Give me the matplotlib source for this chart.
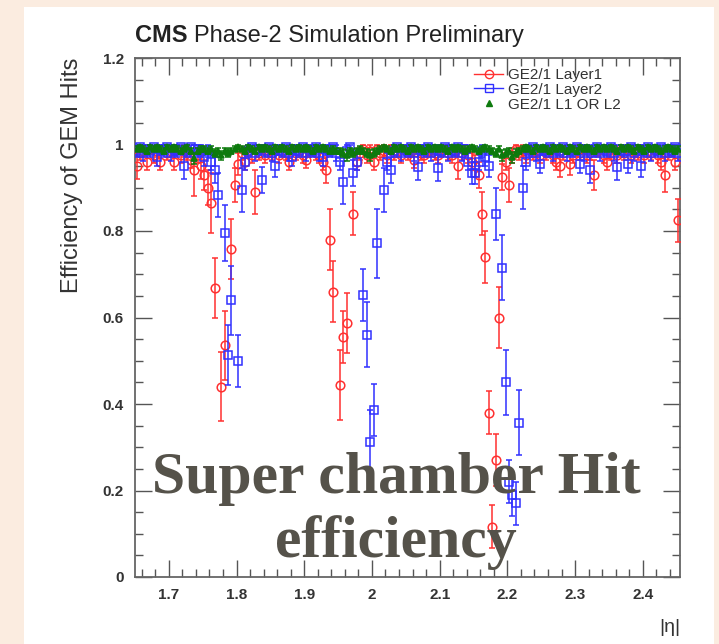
import numpy as np
import matplotlib
matplotlib.use("Agg")
import matplotlib.pyplot as plt
from matplotlib.ticker import MultipleLocator, FixedLocator, FixedFormatter
from matplotlib.lines import Line2D
from matplotlib.patches import Rectangle

nan = np.nan

# ---------------- data ----------------
eta_min, eta_max, bin_width = 1.65, 2.455, 0.005
n_bins = 161

layer1_eff = [
    0.95, 0.98, 0.985, 0.96, 0.99, 0.975, 0.985, 0.96, 0.99, 0.98,
    0.985, 0.96, 0.99, 0.975, 0.985, 0.98, 0.965, 0.94, 0.975, 0.95,
    0.93, 0.90, 0.865, 0.668, nan, 0.44, 0.536, nan, 0.758, 0.906,
    0.955, 0.98, 0.96, 0.985, 0.975, 0.89, 0.98, 0.99, 0.975, 0.985,
    0.98, 0.99, 0.975, 0.985, 0.98, 0.96, 0.99, 0.98, 0.985, 0.975,
    0.965, 0.985, 0.99, 0.98, 0.975, 0.96, 0.94, 0.78, 0.66, nan,
    0.444, 0.555, 0.587, nan, 0.84, 0.96, 0.98, 0.99, 0.975, 0.985,
    0.96, 0.99, 0.98, 0.985, 0.975, 0.99, 0.98, 0.985, 0.975, 0.99,
    0.98, 0.985, 0.965, 0.99, 0.98, 0.975, 0.985, 0.99, 0.98, 0.975,
    0.985, 0.99, 0.98, 0.975, 0.985, 0.95, 0.98, 0.99, 0.975, 0.96,
    0.95, 0.93, 0.84, 0.74, 0.38, 0.116, 0.27, 0.60, 0.925, 0.96,
    0.906, 0.975, 0.99, 0.98, 0.985, 0.975, 0.99, 0.98, 0.985, 0.975,
    0.99, 0.98, 0.985, 0.975, 0.96, 0.95, 0.98, 0.99, 0.955, 0.975,
    0.985, 0.98, 0.99, 0.975, 0.98, 0.93, 0.985, 0.99, 0.975, 0.96,
    0.98, 0.99, 0.975, 0.985, 0.98, 0.99, 0.975, 0.985, 0.98, 0.99,
    0.975, 0.985, 0.98, 0.99, 0.975, 0.96, 0.93, 0.98, 0.985, 0.96, 0.825,
]
layer1_err = [
    0.03, 0.015, 0.015, 0.02, 0.012, 0.018, 0.015, 0.02, 0.012, 0.015,
    0.015, 0.02, 0.012, 0.018, 0.015, 0.015, 0.02, 0.06, 0.018, 0.03,
    0.035, 0.04, 0.07, 0.07, nan, 0.08, 0.08, nan, 0.07, 0.04,
    0.025, 0.015, 0.02, 0.012, 0.018, 0.05, 0.015, 0.012, 0.018, 0.015,
    0.015, 0.012, 0.018, 0.015, 0.015, 0.02, 0.012, 0.015, 0.015, 0.018,
    0.02, 0.015, 0.012, 0.015, 0.018, 0.02, 0.03, 0.07, 0.07, nan,
    0.08, 0.06, 0.07, nan, 0.05, 0.02, 0.015, 0.012, 0.018, 0.015,
    0.02, 0.012, 0.015, 0.015, 0.018, 0.012, 0.015, 0.015, 0.018, 0.012,
    0.015, 0.015, 0.02, 0.012, 0.015, 0.018, 0.015, 0.012, 0.015, 0.018,
    0.015, 0.012, 0.015, 0.018, 0.015, 0.03, 0.015, 0.012, 0.018, 0.02,
    0.025, 0.03, 0.05, 0.06, 0.05, 0.05, 0.06, 0.07, 0.03, 0.02,
    0.04, 0.018, 0.012, 0.015, 0.015, 0.018, 0.012, 0.015, 0.015, 0.018,
    0.012, 0.015, 0.015, 0.018, 0.02, 0.025, 0.015, 0.012, 0.025, 0.018,
    0.015, 0.015, 0.012, 0.018, 0.015, 0.035, 0.015, 0.012, 0.018, 0.02,
    0.015, 0.012, 0.018, 0.015, 0.015, 0.012, 0.018, 0.015, 0.015, 0.012,
    0.018, 0.015, 0.015, 0.012, 0.018, 0.02, 0.04, 0.015, 0.015, 0.02, 0.05,
]
layer2_eff = [
    0.985, 0.995, 0.98, 0.99, 0.985, 0.995, 0.97, 0.99, 0.985, 0.995,
    0.98, 0.99, 0.985, 0.995, 0.95, 0.985, 0.995, 0.98, 0.99, 0.985,
    0.97, 0.985, 0.96, 0.94, 0.883, nan, 0.795, 0.513, 0.64, nan,
    0.50, 0.895, 0.96, 0.985, 0.995, 0.98, 0.99, 0.918, 0.985, 0.995,
    0.98, 0.95, 0.99, 0.985, 0.995, 0.98, 0.97, 0.99, 0.985, 0.995,
    0.98, 0.99, 0.985, 0.995, 0.98, 0.97, 0.99, 0.985, 0.995, 0.98,
    0.96, 0.913, 0.985, 0.995, 0.934, 0.96, nan, 0.652, 0.56, 0.312,
    0.386, 0.772, nan, 0.895, 0.96, 0.94, 0.985, 0.995, 0.98, 0.99,
    0.985, 0.995, 0.98, 0.948, 0.99, 0.985, 0.995, 0.98, 0.99, 0.946,
    0.985, 0.995, 0.98, 0.99, 0.985, 0.995, 0.98, 0.99, 0.96, 0.934,
    0.934, 0.96, 0.985, 0.97, 0.95, nan, 0.84, nan, 0.715, 0.45,
    0.22, 0.19, 0.17, 0.357, 0.90, 0.96, 0.985, 0.995, 0.98, 0.955,
    0.99, 0.985, 0.995, 0.98, 0.99, 0.985, 0.995, 0.98, 0.99, 0.985,
    0.995, 0.955, 0.98, 0.99, 0.94, 0.985, 0.995, 0.98, 0.99, 0.985,
    0.995, 0.98, 0.948, 0.99, 0.985, 0.955, 0.995, 0.98, 0.99, 0.95,
    0.985, 0.995, 0.98, 0.99, 0.985, 0.995, 0.98, 0.99, 0.985, 0.995, 0.98,
]
layer2_err = [
    0.015, 0.012, 0.018, 0.015, 0.015, 0.012, 0.02, 0.015, 0.015, 0.012,
    0.018, 0.015, 0.015, 0.012, 0.03, 0.015, 0.012, 0.018, 0.015, 0.015,
    0.02, 0.015, 0.02, 0.03, 0.05, nan, 0.065, 0.07, 0.08, nan,
    0.06, 0.05, 0.02, 0.015, 0.012, 0.018, 0.015, 0.03, 0.015, 0.012,
    0.018, 0.025, 0.015, 0.015, 0.012, 0.018, 0.02, 0.015, 0.015, 0.012,
    0.018, 0.015, 0.015, 0.012, 0.018, 0.02, 0.015, 0.015, 0.012, 0.018,
    0.02, 0.05, 0.015, 0.012, 0.03, 0.02, nan, 0.06, 0.075, 0.075,
    0.06, 0.08, nan, 0.05, 0.02, 0.03, 0.015, 0.012, 0.018, 0.015,
    0.015, 0.012, 0.018, 0.03, 0.015, 0.015, 0.012, 0.018, 0.015, 0.03,
    0.015, 0.012, 0.018, 0.015, 0.015, 0.012, 0.018, 0.015, 0.02, 0.025,
    0.025, 0.02, 0.015, 0.02, 0.025, nan, 0.06, nan, 0.075, 0.075,
    0.05, 0.05, 0.05, 0.075, 0.05, 0.02, 0.015, 0.012, 0.018, 0.02,
    0.015, 0.015, 0.012, 0.018, 0.015, 0.015, 0.012, 0.018, 0.015, 0.015,
    0.012, 0.02, 0.018, 0.015, 0.03, 0.015, 0.012, 0.018, 0.015, 0.015,
    0.012, 0.018, 0.03, 0.015, 0.015, 0.02, 0.012, 0.018, 0.015, 0.025,
    0.015, 0.012, 0.018, 0.015, 0.015, 0.012, 0.018, 0.015, 0.015, 0.012, 0.018,
]
or_eff = [
    0.99, 0.995, 0.99, 0.985, 0.995, 0.99, 0.995, 0.99, 0.985, 0.995,
    0.99, 0.995, 0.99, 0.985, 0.99, 0.995, 0.985, 0.968, 0.985, 0.99,
    0.99, 0.985, 0.99, 0.98, 0.985, 0.975, 0.985, 0.98, 0.985, 0.99,
    0.995, 0.99, 0.985, 0.995, 0.99, 0.985, 0.995, 0.99, 0.995, 0.99,
    0.985, 0.995, 0.99, 0.995, 0.99, 0.985, 0.995, 0.99, 0.995, 0.99,
    0.995, 0.99, 0.985, 0.995, 0.99, 0.995, 0.99, 0.985, 0.99, 0.985,
    0.985, 0.98, 0.975, 0.985, 0.98, 0.985, 0.99, 0.985, 0.98, 0.975,
    0.98, 0.985, 0.99, 0.995, 0.99, 0.985, 0.995, 0.99, 0.995, 0.99,
    0.985, 0.995, 0.99, 0.995, 0.99, 0.985, 0.995, 0.99, 0.995, 0.99,
    0.995, 0.99, 0.985, 0.995, 0.99, 0.995, 0.99, 0.985, 0.99, 0.995,
    0.99, 0.985, 0.99, 0.995, 0.99, 0.985, 0.98, 0.99, 0.975, 0.98,
    0.985, 0.97, 0.98, 0.985, 0.99, 0.995, 0.99, 0.985, 0.995, 0.99,
    0.995, 0.99, 0.985, 0.995, 0.99, 0.995, 0.99, 0.985, 0.995, 0.99,
    0.985, 0.995, 0.99, 0.995, 0.99, 0.985, 0.995, 0.99, 0.995, 0.99,
    0.995, 0.99, 0.985, 0.995, 0.99, 0.995, 0.99, 0.985, 0.995, 0.99,
    0.985, 0.995, 0.99, 0.995, 0.99, 0.985, 0.99, 0.995, 0.99, 0.985, 0.99,
]
or_err = [
    0.006, 0.005, 0.006, 0.008, 0.005, 0.006, 0.005, 0.006, 0.008, 0.005,
    0.006, 0.005, 0.006, 0.008, 0.006, 0.005, 0.008, 0.012, 0.008, 0.006,
    0.006, 0.008, 0.006, 0.01, 0.008, 0.01, 0.008, 0.01, 0.008, 0.006,
    0.005, 0.006, 0.008, 0.005, 0.006, 0.008, 0.005, 0.006, 0.005, 0.006,
    0.008, 0.005, 0.006, 0.005, 0.006, 0.008, 0.005, 0.006, 0.005, 0.006,
    0.005, 0.006, 0.008, 0.005, 0.006, 0.005, 0.006, 0.008, 0.006, 0.008,
    0.008, 0.01, 0.012, 0.008, 0.01, 0.008, 0.006, 0.008, 0.01, 0.012,
    0.01, 0.008, 0.006, 0.005, 0.006, 0.008, 0.005, 0.006, 0.005, 0.006,
    0.008, 0.005, 0.006, 0.005, 0.006, 0.008, 0.005, 0.006, 0.005, 0.006,
    0.005, 0.006, 0.008, 0.005, 0.006, 0.005, 0.006, 0.008, 0.006, 0.005,
    0.006, 0.008, 0.006, 0.005, 0.006, 0.008, 0.01, 0.006, 0.012, 0.01,
    0.008, 0.012, 0.01, 0.008, 0.006, 0.005, 0.006, 0.008, 0.005, 0.006,
    0.005, 0.006, 0.008, 0.005, 0.006, 0.005, 0.006, 0.008, 0.005, 0.006,
    0.008, 0.005, 0.006, 0.005, 0.006, 0.008, 0.005, 0.006, 0.005, 0.006,
    0.005, 0.006, 0.008, 0.005, 0.006, 0.005, 0.006, 0.008, 0.005, 0.006,
    0.008, 0.005, 0.006, 0.005, 0.006, 0.008, 0.006, 0.005, 0.006, 0.008, 0.006,
]

series_labels = ["GE2/1 Layer1", "GE2/1 Layer2", "GE2/1 L1 OR L2"]
x_tick_values = [1.7, 1.8, 1.9, 2.0, 2.1, 2.2, 2.3, 2.4]
x_tick_labels = ["1.7", "1.8", "1.9", "2", "2.1", "2.2", "2.3", "2.4"]
y_tick_values = [0, 0.2, 0.4, 0.6, 0.8, 1.0, 1.2]
y_tick_labels = ["0", "0.2", "0.4", "0.6", "0.8", "1", "1.2"]

# bin centres of the histogram
eta = eta_min + bin_width * (np.arange(n_bins) + 0.5)

# ---------------- figure ----------------
plt.rcParams['font.family'] = ['Liberation Sans', 'DejaVu Sans']
W, H = 719, 644
fig = plt.figure(figsize=(W / 100, H / 100), dpi=100)
fig.patch.set_facecolor('#fbece0')
fig.patches.append(Rectangle((24 / W, 0), 690 / W, (H - 7) / H,
                             transform=fig.transFigure, facecolor='white',
                             edgecolor='none', zorder=-10))

ax = fig.add_axes([135 / W, 1 - 577 / H, (680 - 135) / W, (577 - 58) / H])
ax.set_zorder(2)
ax.set_facecolor('white')


def draw(y, e, color, marker, ms, mfc, z):
    y = np.asarray(y, float)
    e = np.asarray(e, float)
    up = np.minimum(e, 1.0 - y)
    up = np.clip(up, 0, None)
    ax.errorbar(eta, y, yerr=[e, up], fmt=marker, color=color, ms=ms,
                mfc=mfc, mec=color, mew=1.1, elinewidth=1.1, capsize=2.0,
                capthick=1.1, zorder=z, linestyle='none')


draw(layer1_eff, layer1_err, '#ff3030', 'o', 6.2, 'none', 3)
draw(layer2_eff, layer2_err, '#3030ff', 's', 5.8, 'none', 4)
draw(or_eff, or_err, '#0d7a0d', '^', 3.8, '#0d7a0d', 5)

ax.set_xlim(eta_min, eta_max)
ax.set_ylim(0, 1.2)
ax.xaxis.set_major_locator(FixedLocator(x_tick_values))
ax.xaxis.set_major_formatter(FixedFormatter(x_tick_labels))
ax.yaxis.set_major_locator(FixedLocator(y_tick_values))
ax.yaxis.set_major_formatter(FixedFormatter(y_tick_labels))
ax.xaxis.set_minor_locator(MultipleLocator(0.02))
ax.yaxis.set_minor_locator(MultipleLocator(0.05))
ax.tick_params(which='both', direction='in', top=True, right=True,
               color='#555555', labelcolor='#333333', labelsize=11)
ax.tick_params(which='major', length=12, width=1.0, pad=8)
ax.tick_params(which='minor', length=6, width=1.0)
for sp in ax.spines.values():
    sp.set_color('#666666')
    sp.set_linewidth(1.3)
for lab in ax.get_xticklabels() + ax.get_yticklabels():
    lab.set_fontweight('bold')

# axis titles (ROOT style)
fig.text(72 / W, 1 - 58 / H, "Efficiency of GEM Hits", rotation=90,
         ha='center', va='top', fontsize=17, color='#333333')
fig.text(680 / W, 1 - 628 / H, "|η|", ha='right', va='center',
         fontsize=14, color='#333333')

# header
fig.text(135 / W, 1 - 36 / H, "CMS", ha='left', va='center', fontsize=17,
         fontweight='bold', color='#222222')
fig.text(194 / W, 1 - 36 / H, "Phase-2 Simulation Preliminary", ha='left',
         va='center', fontsize=17, color='#222222')

# legend
handles = [
    Line2D([], [], color='#ff3030', marker='o', mfc='none', ms=6, lw=1.0),
    Line2D([], [], color='#3030ff', marker='s', mfc='none', ms=5.5, lw=1.0),
    Line2D([], [], color='#0d7a0d', marker='^', ms=4, lw=0),
]
leg = ax.legend(handles, series_labels, loc='upper left',
                bbox_to_anchor=((474 - 135) / (680 - 135), 1 - (68 - 58) / (577 - 58)),
                frameon=False, fontsize=11, handlelength=1.9,
                handletextpad=0.35, labelspacing=0.05, borderpad=0,
                borderaxespad=0)
for t in leg.get_texts():
    t.set_color('#333333')

# overlay text
fig.text(396 / W, 1 - 493 / H, "Super chamber Hit", ha='center',
         va='baseline', fontsize=43, fontweight='bold',
         family=['Liberation Serif', 'DejaVu Serif'], color='#55524a', zorder=10)
fig.text(396 / W, 1 - 557 / H, "efficiency", ha='center',
         va='baseline', fontsize=43, fontweight='bold',
         family=['Liberation Serif', 'DejaVu Serif'], color='#55524a', zorder=10)

fig.savefig("out.png", dpi=100, facecolor=fig.get_facecolor())
